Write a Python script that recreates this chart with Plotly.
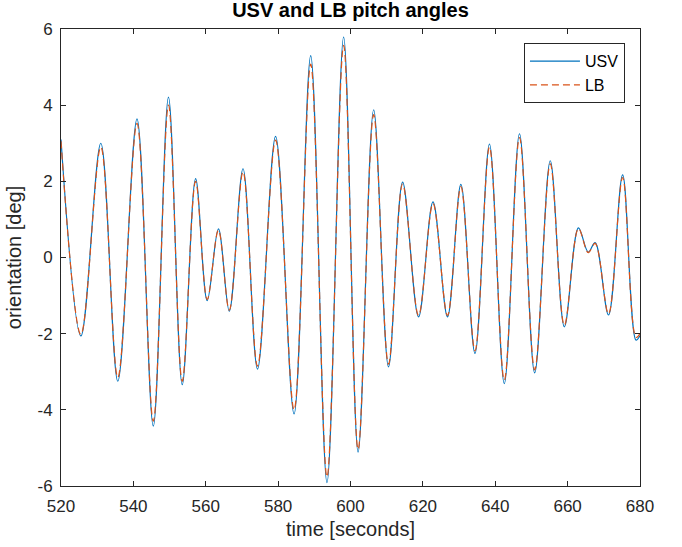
import plotly.graph_objects as go

# Extrema of the pitch signals (time [s], angle [deg])
time_s = [520.0, 525.5, 531.0, 535.7, 541.0, 545.5, 549.7, 553.5, 557.2, 560.4,
          563.5, 566.5, 570.3, 574.3, 579.3, 584.4, 589.0, 593.5, 598.1, 602.1,
          606.4, 610.5, 614.4, 618.8, 622.8, 626.8, 630.5, 634.4, 638.4, 642.5,
          646.7, 650.9, 655.2, 659.1, 663.0, 665.7, 667.6, 671.3, 675.2, 678.9, 680.0]
usv_deg = [3.10, -2.06, 3.00, -3.25, 3.64, -4.43, 4.21, -3.34, 2.07, -1.13,
           0.75, -1.41, 2.33, -2.93, 3.18, -4.11, 5.30, -5.91, 5.79, -5.11,
           3.88, -2.87, 1.98, -1.56, 1.46, -1.56, 1.92, -2.52, 2.98, -3.31,
           3.25, -3.03, 2.54, -1.82, 0.78, 0.14, 0.39, -1.51, 2.17, -2.17, -2.05]
lb_deg = [3.05, -2.02, 2.90, -3.15, 3.52, -4.30, 4.00, -3.25, 2.00, -1.10,
          0.72, -1.38, 2.25, -2.85, 3.08, -4.00, 5.08, -5.76, 5.57, -5.04,
          3.75, -2.80, 1.93, -1.52, 1.42, -1.52, 1.86, -2.45, 2.90, -3.22,
          3.15, -2.95, 2.46, -1.78, 0.76, 0.13, 0.37, -1.48, 2.10, -2.10, -2.00]

x_ticks = [520, 540, 560, 580, 600, 620, 640, 660, 680]
y_ticks = [-6, -4, -2, 0, 2, 4, 6]
y_tick_text = ["-6", "-4", "-2", "0", "2", "4", "6"]

fig = go.Figure()
fig.add_trace(go.Scatter(x=time_s, y=usv_deg, mode="lines", name="USV",
                         line=dict(color="#0072BD", width=1.2, shape="spline", smoothing=1.0)))
fig.add_trace(go.Scatter(x=time_s, y=lb_deg, mode="lines", name="LB",
                         line=dict(color="#D95319", width=1.2, dash="7px,4px",
                                   shape="spline", smoothing=1.0)))

axis_common = dict(showline=True, linecolor="#262626", linewidth=1, mirror="ticks",
                   ticks="inside", ticklen=5, tickcolor="#262626", showgrid=False,
                   zeroline=False, tickfont=dict(size=17, color="#262626"))

fig.update_layout(
    width=682, height=547,
    margin=dict(l=61, r=42, t=29, b=61),
    paper_bgcolor="white", plot_bgcolor="white",
    font=dict(family="Liberation Sans, Arial, sans-serif", color="#262626"),
    title=dict(text="<b>USV and LB pitch angles</b>", x=0.5, xanchor="center",
               xref="paper", y=0.982, yanchor="middle",
               font=dict(size=20, color="#000000")),
    xaxis=dict(range=[520, 680], tickvals=x_ticks, ticklabelstandoff=5,
               title=dict(text="time [seconds]", font=dict(size=20), standoff=6),
               **axis_common),
    yaxis=dict(range=[-6, 6], tickvals=y_ticks, ticktext=y_tick_text, ticklabelstandoff=4,
               title=dict(text="orientation [deg]", font=dict(size=20), standoff=10),
               **axis_common),
    legend=dict(x=0.974, y=0.969, xanchor="right", yanchor="top",
                bgcolor="white", bordercolor="#262626", borderwidth=1,
                itemwidth=50,
                font=dict(size=16, color="#000000"), tracegroupgap=0),
    showlegend=True,
)

fig.write_html("out.html", config={"displayModeBar": False},
               post_script="document.body.style.margin='0';")
